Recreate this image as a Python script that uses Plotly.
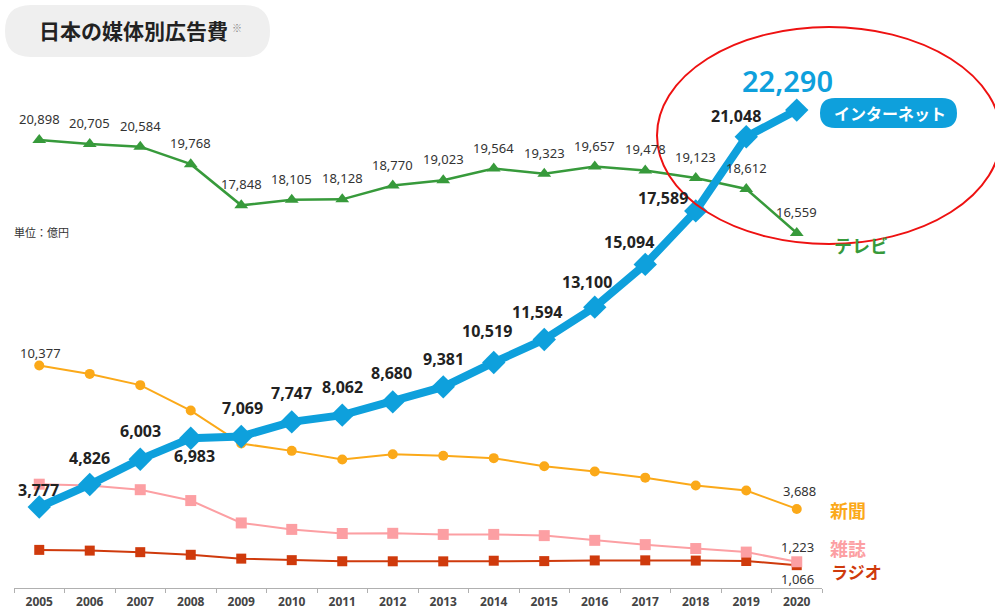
import plotly.graph_objects as go

years = list(range(2005, 2021))
internet = [3777, 4826, 6003, 6983, 7069, 7747, 8062, 8680, 9381, 10519, 11594, 13100, 15094, 17589, 21048, 22290]
tv = [20898, 20705, 20584, 19768, 17848, 18105, 18128, 18770, 19023, 19564, 19323, 19657, 19478, 19123, 18612, 16559]
newspaper = [10377, 9986, 9462, 8276, 6739, 6396, 5990, 6242, 6170, 6057, 5679, 5431, 5147, 4784, 4547, 3688]
magazine = [4842, 4777, 4585, 4078, 3034, 2733, 2542, 2551, 2499, 2500, 2443, 2223, 2023, 1841, 1675, 1223]
radio = [1778, 1744, 1671, 1549, 1370, 1299, 1247, 1246, 1243, 1272, 1254, 1285, 1290, 1278, 1260, 1066]

C_NET = "#0ea0dc"
C_TV = "#379a3b"
C_NEWS = "#fba919"
C_MAG = "#fc9fa3"
C_RADIO = "#cf3a0c"

FONT = "Noto Sans CJK JP"
NUMFONT = "Noto Sans"
W, H = 995, 609
ML, MR, MT, MB = 14, 173, 60, 21
YMAX = 24627

def px2x(px):
    return (px - ML) / (W - ML - MR)

def py2y(py):
    return (H - MB - py) / (H - MB - MT)

fig = go.Figure()

fig.add_trace(go.Scatter(x=years, y=radio, mode="lines+markers",
                         line=dict(color=C_RADIO, width=2),
                         marker=dict(symbol="square", size=10, color=C_RADIO), cliponaxis=False))
fig.add_trace(go.Scatter(x=years, y=magazine, mode="lines+markers",
                         line=dict(color=C_MAG, width=2),
                         marker=dict(symbol="square", size=11, color=C_MAG), cliponaxis=False))
fig.add_trace(go.Scatter(x=years, y=newspaper, mode="lines+markers",
                         line=dict(color=C_NEWS, width=2),
                         marker=dict(symbol="circle", size=10, color=C_NEWS), cliponaxis=False))
fig.add_trace(go.Scatter(x=years, y=tv, mode="lines+markers",
                         line=dict(color=C_TV, width=2.5),
                         marker=dict(symbol="triangle-up", size=12, color=C_TV), cliponaxis=False))
fig.add_trace(go.Scatter(x=years, y=internet, mode="lines+markers",
                         line=dict(color=C_NET, width=8),
                         marker=dict(symbol="diamond", size=18, color=C_NET), cliponaxis=False))

ann = []
# TV labels
for x, v in zip(years, tv):
    ann.append(dict(x=x, y=v, text=f"{v:,}", showarrow=False, yshift=21,
                    font=dict(size=13, color="#333333", family=NUMFONT)))

# Internet labels offsets (pixels)
net_off = [(-1, 17), (0, 27), (0, 28), (4, -18), (1, 28), (0, 29), (0, 28), (-1, 29),
           (0, 28), (-7, 31), (-7, 27), (-8, 25), (-16, 22), (-33, 13), (-10, 21)]
for (x, v), (dx, dy) in zip(list(zip(years, internet))[:-1], net_off):
    ann.append(dict(x=x, y=v, text=f"<b>{v:,}</b>", showarrow=False, xshift=dx, yshift=dy,
                    font=dict(size=16, color="#222222", family=NUMFONT)))
ann.append(dict(x=years[-1], y=internet[-1], text=f"{internet[-1]:,}", showarrow=False,
                xshift=-9, yshift=30, font=dict(size=29, color=C_NET, family=NUMFONT, weight=600)))

# Other end/start labels
small = dict(size=13, color="#333333", family=NUMFONT)
ann.append(dict(x=years[0], y=newspaper[0], text=f"{newspaper[0]:,}", showarrow=False,
                xshift=1, yshift=13, font=small))
ann.append(dict(x=years[-1], y=newspaper[-1], text=f"{newspaper[-1]:,}", showarrow=False,
                xshift=3, yshift=18, font=small))
ann.append(dict(x=years[-1], y=magazine[-1], text=f"{magazine[-1]:,}", showarrow=False,
                xshift=1, yshift=15, font=small))
ann.append(dict(x=years[-1], y=radio[-1], text=f"{radio[-1]:,}", showarrow=False,
                xshift=1, yshift=-14, font=small))

# Series names
def name_ann(px, py, text, color, size=18):
    return dict(xref="paper", yref="paper", x=px2x(px), y=py2y(py), text=f"<b>{text}</b>",
                showarrow=False, xanchor="center", yanchor="middle",
                font=dict(size=size, color=color, family=FONT))

ann.append(name_ann(861, 245, "テレビ", C_TV))
ann.append(name_ann(848, 510, "新聞", C_NEWS))
ann.append(name_ann(848, 548, "雑誌", C_MAG))
ann.append(name_ann(856, 571, "ラジオ", C_RADIO, 17))
ann.append(dict(xref="paper", yref="paper", x=px2x(890), y=py2y(113), text="<b>インターネット</b>",
                showarrow=False, xanchor="center", yanchor="middle",
                font=dict(size=16, color="white", family=FONT)))

# Title
ann.append(dict(xref="paper", yref="paper", x=px2x(37), y=py2y(30), text="<b>日本の媒体別広告費</b>",
                showarrow=False, xanchor="left", yanchor="middle",
                font=dict(size=21, color="#222222", family=FONT)))
ann.append(dict(xref="paper", yref="paper", x=px2x(230), y=py2y(27), text="※",
                showarrow=False, xanchor="left", yanchor="middle",
                font=dict(size=10, color="#888888", family=FONT)))
ann.append(dict(xref="paper", yref="paper", x=px2x(12), y=py2y(232), text="単位：億円",
                showarrow=False, xanchor="left", yanchor="middle",
                font=dict(size=11, color="#333333", family=FONT)))


def rounded_rect(x0, y0, x1, y1, r):
    def P(px, py):
        return f"{px2x(px)},{py2y(py)}"
    path = (f"M {P(x0 + r, y0)} L {P(x1 - r, y0)} Q {P(x1, y0)} {P(x1, y0 + r)} "
            f"L {P(x1, y1 - r)} Q {P(x1, y1)} {P(x1 - r, y1)} L {P(x0 + r, y1)} "
            f"Q {P(x0, y1)} {P(x0, y1 - r)} L {P(x0, y0 + r)} Q {P(x0, y0)} {P(x0 + r, y0)} Z")
    return path

shapes = [
    dict(type="path", xref="paper", yref="paper", path=rounded_rect(5, 5, 270, 57, 26),
         fillcolor="#efefef", line=dict(width=0), layer="below"),
    dict(type="path", xref="paper", yref="paper", path=rounded_rect(820, 98, 957, 128, 15),
         fillcolor=C_NET, line=dict(width=0), layer="below"),
    dict(type="circle", xref="paper", yref="paper", x0=px2x(657), x1=px2x(1001),
         y0=py2y(244), y1=py2y(27), line=dict(color="#ee1111", width=2), fillcolor="rgba(0,0,0,0)"),
]

bounds = [y - 0.5 for y in years] + [years[-1] + 0.5]

fig.update_layout(
    width=W, height=H,
    margin=dict(l=ML, r=MR, t=MT, b=MB, autoexpand=False),
    paper_bgcolor="white", plot_bgcolor="white",
    showlegend=False,
    annotations=ann,
    shapes=shapes,
    font=dict(family=FONT),
    xaxis=dict(range=[2004.5, 2020.5], tickmode="array", tickvals=years,
               ticktext=[f"<b>{y}</b>" for y in years],
               tickfont=dict(size=12, color="#444444", family=NUMFONT),
               showgrid=False, zeroline=False, showline=True, linecolor="#b0b0b0", linewidth=1,
               ticks="outside", ticklen=3, tickcolor="rgba(0,0,0,0)", automargin=False,
               minor=dict(tickmode="array", tickvals=bounds, ticks="outside", ticklen=4,
                          tickcolor="#b0b0b0", showgrid=False),
               fixedrange=True),
    yaxis=dict(range=[0, YMAX], visible=False, showgrid=False, zeroline=False, fixedrange=True,
               automargin=False),
)

fig.write_html("out.html")
